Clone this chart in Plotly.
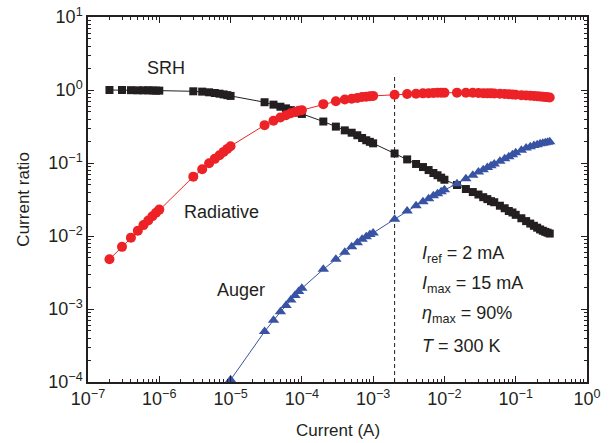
import plotly.graph_objects as go

# Injection current sweep (A)
current = [
    2e-7, 3e-7, 4e-7, 5e-7, 6e-7, 7e-7, 8e-7, 9e-7,
    1e-6, 3e-6, 4e-6, 5e-6, 6e-6, 7e-6, 8e-6, 9e-6,
    1e-5, 3e-5, 4e-5, 5e-5, 6e-5, 7e-5, 8e-5, 9e-5,
    1e-4, 2e-4, 3e-4, 4e-4, 5e-4, 6e-4, 7e-4, 8e-4, 9e-4,
    1e-3, 2e-3, 3e-3, 4e-3, 5e-3, 6e-3, 7e-3, 8e-3, 9e-3,
    1e-2, 1.5e-2, 2e-2, 2.5e-2, 3e-2, 3.5e-2, 4e-2, 4.5e-2, 5e-2, 6e-2, 7e-2, 8e-2, 9e-2,
    1e-1, 1.2e-1, 1.4e-1, 1.6e-1, 1.8e-1, 2e-1, 2.2e-1, 2.4e-1, 2.6e-1, 2.8e-1, 3e-1,
]

# Shockley-Read-Hall share of the total current
srh = [
    1.00, 1.00, 0.995, 0.99, 0.99, 0.99, 0.985, 0.98,
    0.98, 0.96, 0.95, 0.93, 0.91, 0.89, 0.87, 0.85,
    0.83, 0.68, 0.63, 0.59, 0.56, 0.53, 0.51, 0.49,
    0.47, 0.37, 0.315, 0.28, 0.26, 0.24, 0.22, 0.205, 0.195,
    0.186, 0.135, 0.112, 0.097, 0.088, 0.080, 0.073, 0.068, 0.063,
    0.059, 0.050, 0.044, 0.040, 0.037, 0.034, 0.032, 0.030, 0.029, 0.026, 0.024, 0.022, 0.021,
    0.0195, 0.0175, 0.0160, 0.0148, 0.0138, 0.0130, 0.0123, 0.0118, 0.0114, 0.0111, 0.0108,
]

# Radiative share of the total current
radiative = [
    0.0048, 0.0071, 0.0095, 0.0118, 0.0141, 0.0163, 0.0186, 0.0208,
    0.0230, 0.065, 0.082, 0.099, 0.114, 0.128, 0.142, 0.156,
    0.170, 0.33, 0.38, 0.42, 0.45, 0.48, 0.50, 0.52,
    0.53, 0.64, 0.70, 0.74, 0.76, 0.78, 0.80, 0.81, 0.82,
    0.83, 0.86, 0.88, 0.89, 0.90, 0.905, 0.91, 0.915, 0.92,
    0.92, 0.92, 0.915, 0.915, 0.91, 0.905, 0.90, 0.90, 0.895, 0.89, 0.88, 0.875, 0.87,
    0.86, 0.85, 0.84, 0.835, 0.83, 0.82, 0.815, 0.81, 0.80, 0.795, 0.79,
]

# Auger share of the total current (below the axis floor at the lowest currents)
auger = [
    None, None, None, None, None, None, None, None,
    None, None, None, None, None, None, None, None,
    1.07e-4, 4.9e-4, 7.0e-4, 9.2e-4, 1.12e-3, 1.33e-3, 1.53e-3, 1.73e-3,
    1.92e-3, 3.5e-3, 4.8e-3, 6.0e-3, 7.1e-3, 8.1e-3, 9.0e-3, 9.8e-3, 1.05e-2,
    1.10e-2, 1.70e-2, 2.20e-2, 2.60e-2, 2.95e-2, 3.25e-2, 3.55e-2, 3.80e-2, 4.05e-2,
    4.3e-2, 5.2e-2, 6.1e-2, 6.8e-2, 7.5e-2, 8.1e-2, 8.7e-2, 9.2e-2, 9.7e-2, 0.106, 0.114, 0.122, 0.130,
    0.138, 0.150, 0.160, 0.167, 0.173, 0.178, 0.183, 0.187, 0.190, 0.193, 0.196,
]

# Reference current marker
i_ref = 2e-3
ref_line_y = [1e-4, 1.65]

x_tickvals = [1e-7, 1e-6, 1e-5, 1e-4, 1e-3, 1e-2, 1e-1, 1e0]
x_ticktext = ["10<sup>\u22127</sup>", "10<sup>\u22126</sup>", "10<sup>\u22125</sup>",
              "10<sup>\u22124</sup>", "10<sup>\u22123</sup>", "10<sup>\u22122</sup>",
              "10<sup>\u22121</sup>", "10<sup>0</sup>"]
y_tickvals = [1e-4, 1e-3, 1e-2, 1e-1, 1e0, 1e1]
y_ticktext = ["10<sup>\u22124</sup>", "10<sup>\u22123</sup>", "10<sup>\u22122</sup>",
              "10<sup>\u22121</sup>", "10<sup>0</sup>", "10<sup>1</sup>"]

BLACK = "#231f20"
RED = "#ec2227"
BLUE = "#3953a4"
FONT = "Liberation Sans, Arial, sans-serif"
FS = 18

fig = go.Figure()

fig.add_trace(go.Scatter(
    x=[i_ref, i_ref], y=ref_line_y, mode="lines",
    line=dict(color=BLACK, width=1, dash="4px,3px"),
    hoverinfo="skip", showlegend=False,
))
fig.add_trace(go.Scatter(
    x=current, y=srh, mode="lines+markers", name="SRH",
    line=dict(color=BLACK, width=1),
    marker=dict(symbol="square", size=8, color=BLACK),
))
fig.add_trace(go.Scatter(
    x=current, y=radiative, mode="lines+markers", name="Radiative",
    line=dict(color=RED, width=1),
    marker=dict(symbol="circle", size=10, color=RED),
))
fig.add_trace(go.Scatter(
    x=current, y=auger, mode="lines+markers", name="Auger",
    line=dict(color=BLUE, width=1),
    marker=dict(symbol="triangle-up", size=10, color=BLUE),
))

axis_common = dict(
    type="log", showgrid=False, zeroline=False, automargin=False,
    showline=True, linecolor=BLACK, linewidth=1.5, mirror="ticks",
    ticks="inside", ticklen=6, tickwidth=1, tickcolor=BLACK,
    minor=dict(ticks="inside", ticklen=3, tickwidth=1, tickcolor=BLACK, dtick="D1", showgrid=False),
    tickfont=dict(family=FONT, size=FS, color=BLACK),
)

fig.update_xaxes(**axis_common, range=[-7, 0], dtick=1,
                 tickvals=x_tickvals, ticktext=x_ticktext)
fig.update_yaxes(**axis_common, range=[-4, 1], dtick=1,
                 tickvals=y_tickvals, ticktext=y_ticktext)

# Axis titles
fig.add_annotation(x=0.5, y=-0.132, xref="paper", yref="paper", text="Current (A)",
                   showarrow=False, xanchor="center", yanchor="middle",
                   font=dict(family=FONT, size=FS - 1, color=BLACK))
fig.add_annotation(x=-0.130, y=0.5, xref="paper", yref="paper", text="Current ratio",
                   showarrow=False, xanchor="center", yanchor="middle", textangle=-90,
                   font=dict(family=FONT, size=FS - 1, color=BLACK))

labels = [
    ("SRH", 0.156, 0.860, "center"),
    ("Radiative", 0.268, 0.465, "center"),
    ("Auger", 0.306, 0.252, "center"),
    ("<i>I</i><sub>ref</sub> = 2 mA", 0.666, 0.348, "left"),
    ("<i>I</i><sub>max</sub> = 15 mA", 0.666, 0.266, "left"),
    ("<i>\u03b7</i><sub>max</sub> = 90%", 0.666, 0.184, "left"),
    ("<i>T</i> = 300 K", 0.666, 0.099, "left"),
]
for text, px, py, align in labels:
    fig.add_annotation(
        x=px, y=py, xref="paper", yref="paper", text=text, showarrow=False,
        xanchor=align, yanchor="middle",
        font=dict(family=FONT, size=FS, color=BLACK),
    )

fig.update_layout(
    width=609, height=443,
    margin=dict(l=88, r=22, t=17, b=61),
    paper_bgcolor="white", plot_bgcolor="white",
    showlegend=False,
)

fig.write_html("out.html")
